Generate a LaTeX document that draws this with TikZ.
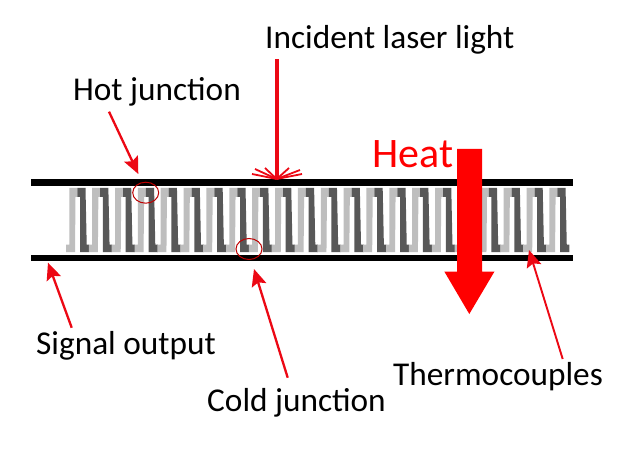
\documentclass[tikz,border=0pt]{standalone}
\usepackage{fontspec}
\setmainfont{Carlito}
\usetikzlibrary{arrows.meta,shapes.geometric}
\definecolor{lightleg}{RGB}{190,190,190}
\definecolor{darkleg}{RGB}{88,88,88}
\definecolor{redmark}{RGB}{255,0,0}
\definecolor{redpointer}{RGB}{236,8,20}
\tikzset{
  label/.style={font=\fontsize{33.3}{38}\selectfont,text=black,inner sep=0pt,anchor=base west},
  bar/.style={fill=black,draw=none},
  pointer/.style={draw=redpointer,line width=2.3pt,-{Stealth[length=17pt,width=15pt,inset=3pt]}},
  ring/.style={draw=redmark!75!black,line width=1pt,ellipse,fill=none,inner sep=0pt},
  fan/.style={draw=redpointer,line width=1.8pt},
}
\begin{document}
\begin{tikzpicture}[x=1pt,y=-1pt]
\useasboundingbox (0,0) rectangle (626,465);
\fill[white] (0,0) rectangle (626,465);
% plates
\path[bar] (31,179.3) rectangle (573,186);
\path[bar] (31,254.7) rectangle (573,261);
% thermocouple legs
\foreach \i in {0,...,21}{
  \begin{scope}[xshift=\i*22.86pt]
  \fill[lightleg] (69.3,188) -- (77.3,188) -- (77.3,197) -- (75.5,197) -- (75,252) -- (66,252) -- (66,244.7) -- (69.3,244.7) -- cycle;
  \fill[darkleg] (77.3,188) -- (85.5,188) -- (86.7,244.7) -- (89.2,244.7) -- (89.2,252) -- (80,252) -- (80,197) -- (77.3,197) -- cycle;
  \end{scope}
}
% junction rings
\node[ring,minimum width=26pt,minimum height=21pt] (hotj) at (145.7,192.7) {};
\node[ring,minimum width=26pt,minimum height=21pt] (coldj) at (249,249) {};
% labels
\node[label] (incident) at (265,48.5) {Incident laser light};
\node[label] (hot) at (73,101) {Hot junction};
\node[label] (signal) at (36,354.2) {Signal output};
\node[label] (cold) at (207,411) {Cold junction};
\node[label] (thermo) at (393,385) {Thermocouples};
\node[label,font=\fontsize{42}{46}\selectfont,text=redmark] (heat) at (372,168) {Heat};
% pointer ends
\coordinate (hotA) at (109,111.7);
\coordinate (hotB) at (138.3,174);
\coordinate (sigA) at (71.7,327.7);
\coordinate (sigB) at (48,262.7);
\coordinate (coldA) at (287.7,377.7);
\coordinate (coldB) at (254,269);
\coordinate (thA) at (562.7,359);
\coordinate (thB) at (529,250);
\coordinate (laserA) at (276.7,59.3);
\coordinate (laserB) at (276.7,179);
\draw[pointer] (hotA) -- (hotB);
\draw[pointer] (sigA) -- (sigB);
\draw[pointer] (coldA) -- (coldB);
\draw[pointer,line width=1.9pt] (thA) -- (thB);
\draw[draw=redpointer,line width=3.6pt] (laserA) -- (laserB);
\foreach \fx/\fy in {252/174,255/169,265/168,289/168,300/170,302/174}{
  \draw[fan] (laserB) -- (\fx,\fy);
}
% heat arrow
\fill[redmark] (457,149) -- (482,149) -- (482,271.5) -- (494.5,271.5) -- (469.3,314) -- (444.3,271.5) -- (457,271.5) -- cycle;
\end{tikzpicture}
\end{document}
